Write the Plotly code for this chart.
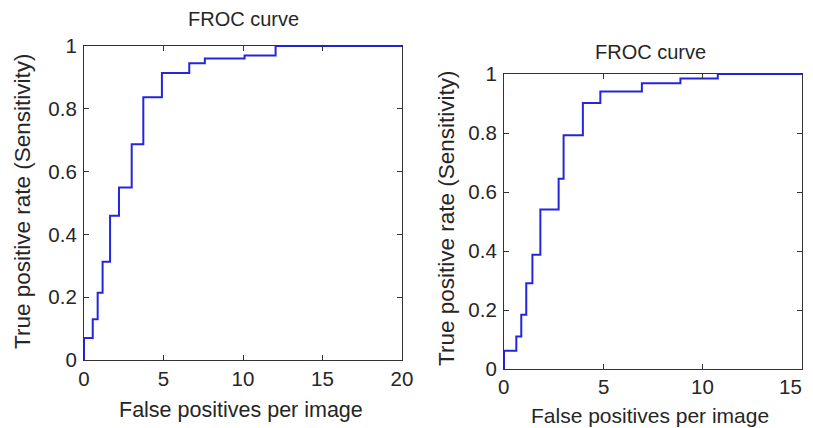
import plotly.graph_objects as go

# Left FROC curve (step corners)
left_fp = [0, 0, 0.55, 0.86, 1.17, 1.64, 2.2, 3.0, 3.73, 4.9, 6.62, 7.6, 10.1, 12.05, 20]
left_tpr = [0, 0.07, 0.13, 0.214, 0.313, 0.459, 0.549, 0.687, 0.837, 0.914, 0.945, 0.96, 0.97, 1.0, 1.0]

# Right FROC curve (step corners)
right_fp = [0, 0, 0.62, 0.87, 1.12, 1.43, 1.83, 2.75, 3.0, 3.97, 4.85, 6.94, 8.88, 10.76, 15]
right_tpr = [0, 0.062, 0.11, 0.184, 0.291, 0.387, 0.541, 0.645, 0.792, 0.902, 0.941, 0.969, 0.985, 1.0, 1.0]

y_ticks = [0, 0.2, 0.4, 0.6, 0.8, 1]
y_tick_labels = ["0", "0.2", "0.4", "0.6", "0.8", "1"]
left_x_ticks = [0, 5, 10, 15, 20]
right_x_ticks = [0, 5, 10, 15]

title_text = "FROC curve"
x_title = "False positives per image"
y_title = "True positive rate (Sensitivity)"

# the page body keeps an 8px margin, so the figure is 8px smaller than the window
OFF = 8
W, H = 813 - OFF, 428 - OFF
FONT = "Liberation Sans, Arial, Helvetica, sans-serif"
TXT = "#262626"
LINE = "#2525dd"
AX = "#333333"
TICK_SIZE = 20.5


def px(x):
    return (x - OFF) / W


def py(y):
    return 1 - (y - OFF) / H


fig = go.Figure()
fig.add_trace(go.Scatter(x=left_fp, y=left_tpr, mode="lines", line=dict(color=LINE, width=2, shape="hv"),
                         xaxis="x", yaxis="y", showlegend=False))
fig.add_trace(go.Scatter(x=right_fp, y=right_tpr, mode="lines", line=dict(color=LINE, width=2, shape="hv"),
                         xaxis="x2", yaxis="y2", showlegend=False))

axis_common = dict(showgrid=False, zeroline=False, showline=True, linecolor=AX, linewidth=1.2,
                   mirror="ticks", ticks="inside", ticklen=5, tickcolor=AX, tickwidth=1,
                   automargin=False, ticklabeloverflow="allow",
                   tickfont=dict(family=FONT, size=TICK_SIZE, color=TXT))

fig.update_layout(
    width=W, height=H,
    template="none",
    margin=dict(l=0, r=0, t=0, b=0, autoexpand=False),
    paper_bgcolor="white", plot_bgcolor="white",
    xaxis=dict(domain=[px(84), px(402)], range=[0, 20], tickvals=left_x_ticks, anchor="y", **axis_common),
    yaxis=dict(domain=[py(360), py(46)], range=[0, 1], tickvals=y_ticks, ticktext=y_tick_labels,
               anchor="x", ticklabelstandoff=2, **axis_common),
    xaxis2=dict(domain=[px(504), px(802)], range=[0, 15], tickvals=right_x_ticks, showticklabels=False,
                anchor="y2", **axis_common),
    yaxis2=dict(domain=[py(369), py(74)], range=[0, 1], tickvals=y_ticks, ticktext=y_tick_labels,
                anchor="x2", ticklabelstandoff=2, **axis_common),
)

# right-hand x tick labels placed on the x2 data scale (the last one kept inside the window)
for i, v in enumerate(right_x_ticks):
    last = i == len(right_x_ticks) - 1
    fig.add_annotation(xref="x2", yref="paper", x=v, y=py(369), yanchor="top", yshift=-4,
                       xanchor="right" if last else "center", xshift=2 if last else 0,
                       text=str(v), showarrow=False,
                       font=dict(family=FONT, size=TICK_SIZE, color=TXT))

anns = [
    dict(text=title_text, x=px(243), y=py(19), font=dict(family=FONT, size=20, color=TXT)),
    dict(text=title_text, x=px(650), y=py(52), font=dict(family=FONT, size=20, color=TXT)),
    dict(text=x_title, x=px(241), y=py(410), font=dict(family=FONT, size=21.5, color=TXT)),
    dict(text=x_title, x=px(650), y=py(415), font=dict(family=FONT, size=21, color=TXT)),
    dict(text=y_title, x=px(23), y=py(201), textangle=-90, font=dict(family=FONT, size=22.5, color=TXT)),
    dict(text=y_title, x=px(446), y=py(218), textangle=-90, font=dict(family=FONT, size=22.5, color=TXT)),
]
for a in anns:
    fig.add_annotation(xref="paper", yref="paper", xanchor="center", yanchor="middle",
                       showarrow=False, **a)

fig.write_html("out.html")
